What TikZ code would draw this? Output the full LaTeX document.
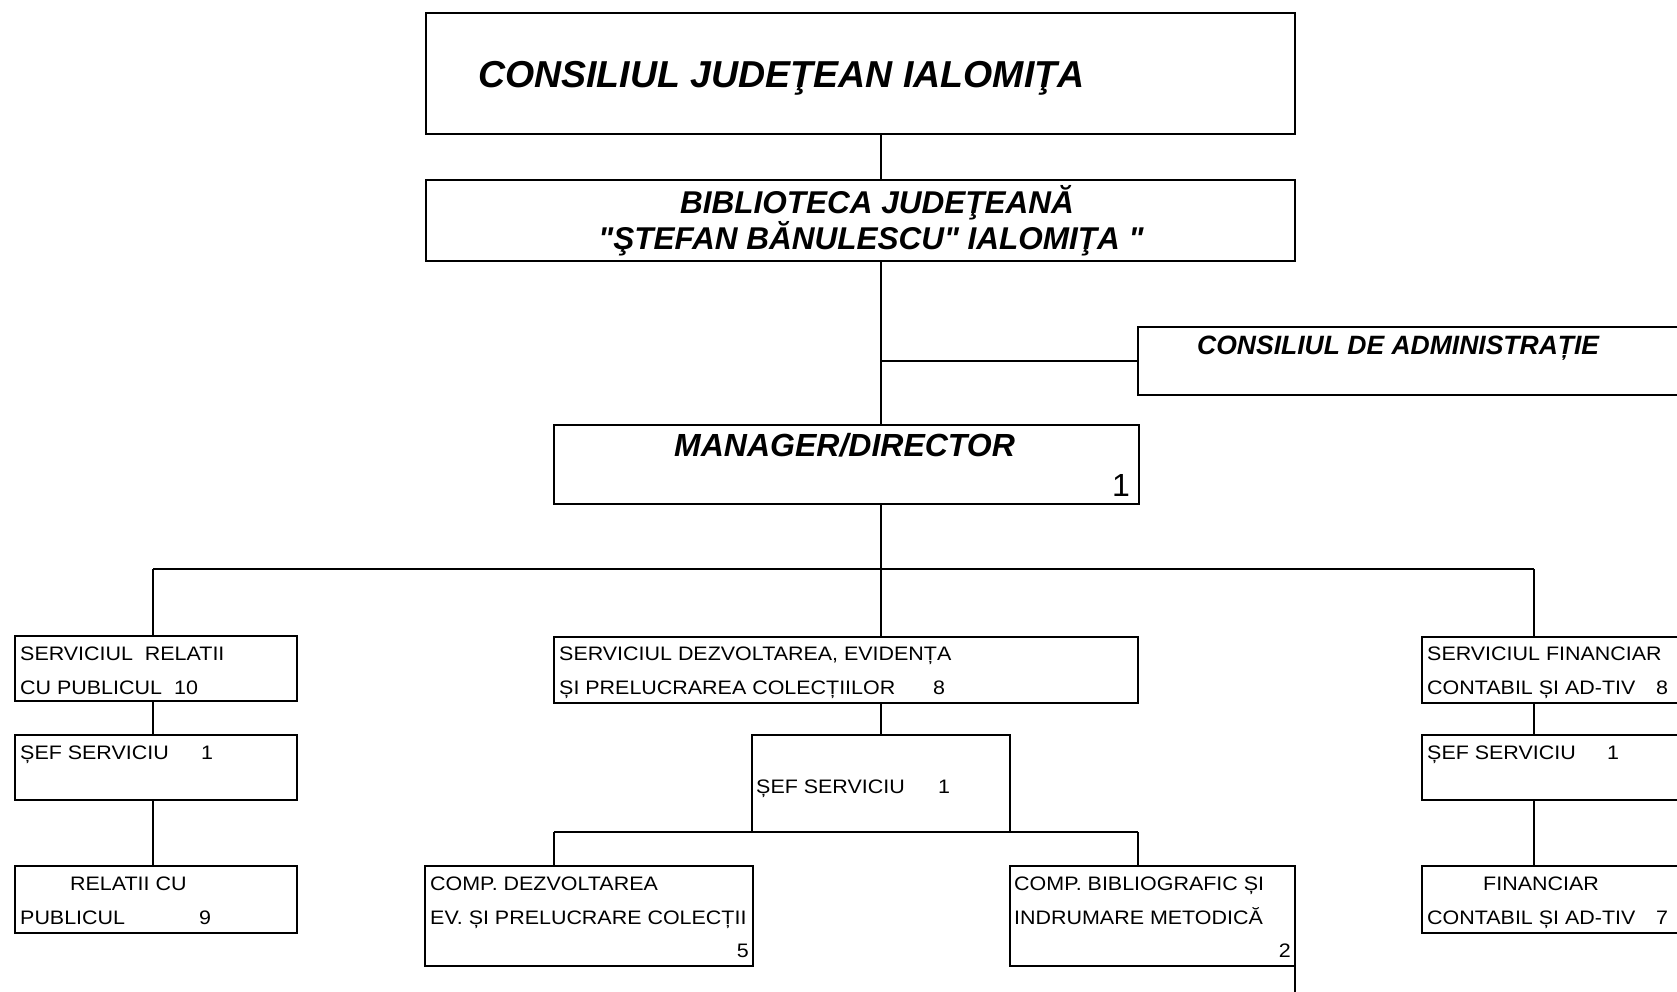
\documentclass[tikz,border=0pt]{standalone}
\usepackage{fontspec}
\setmainfont{Liberation Sans}[Ligatures=TeXOff]
\newfontfamily\widefont{Liberation Sans}[FakeStretch=1.1,Ligatures=TeXOff]
\newcommand{\mkbox}[5]{\node[box, minimum width={#4-#2}, minimum height={#5-#3}] (#1) at ({(#2+#4)/2},{(#3+#5)/2}) {};}
\begin{document}
\begin{tikzpicture}[x=1pt,y=-1pt,
  box/.style={draw, line width=1.6pt, inner sep=0pt, outer sep=0pt},
  ln/.style={line width=1.6pt},
  sm/.style={font=\widefont\fontsize{19.5}{22}\selectfont, inner sep=0pt, anchor=base west},
  smr/.style={sm, anchor=base east},
  bigt/.style={font=\bfseries\itshape\fontsize{37.5}{42}\selectfont, inner sep=0pt, anchor=base west},
  bibt/.style={font=\bfseries\itshape\fontsize{31.5}{36}\selectfont, inner sep=0pt, anchor=base},
  cdat/.style={font=\bfseries\itshape\fontsize{26.5}{30}\selectfont, inner sep=0pt, anchor=base west},
  mgrt/.style={font=\bfseries\itshape\fontsize{32}{36}\selectfont, inner sep=0pt, anchor=base west},
  numt/.style={font=\fontsize{32}{36}\selectfont, inner sep=0pt, anchor=base east},
]
\useasboundingbox (0,0) rectangle (1677,991);
\clip (0,0) rectangle (1677,991);
\fill[white] (0,0) rectangle (1677,991);

% boxes
\mkbox{top}{426}{13}{1295}{134}
\mkbox{bib}{426}{180}{1295}{261}
\mkbox{cda}{1138}{327}{1710}{395}
\mkbox{mgr}{554}{425}{1139}{504}
\mkbox{lA}{15}{636}{297}{701}
\mkbox{lB}{15}{735}{297}{800}
\mkbox{lC}{15}{866}{297}{933}
\mkbox{mA}{554}{637}{1138}{703}
\mkbox{mB}{752}{735}{1010}{832}
\mkbox{mC}{425}{866}{753}{966}
\mkbox{mD}{1010}{866}{1295}{966}
\mkbox{rA}{1422}{637}{1710}{703}
\mkbox{rB}{1422}{735}{1710}{800}
\mkbox{rC}{1422}{866}{1710}{933}

% coordinates
\coordinate (spine) at (881,0);
\coordinate (busL) at (153,569);
\coordinate (busR) at (1534,569);
\coordinate (subL) at (554,832);
\coordinate (subR) at (1138,832);
\coordinate (tail) at (1295,1000);

% connectors
\draw[ln] (top.south -| spine) -- (bib.north -| spine);
\draw[ln] (bib.south -| spine) -- (mgr.north -| spine);
\draw[ln] (spine |- cda.west) -- (cda.west);
\draw[ln] (mgr.south -| spine) -- (spine |- busL);
\draw[ln] (busL) -- (busR);
\draw[ln] (busL) -- (busL |- lA.north);
\draw[ln] (spine |- busL) -- (mA.north -| spine);
\draw[ln] (busR) -- (busR |- rA.north);
\draw[ln] (lA.south -| busL) -- (lB.north -| busL);
\draw[ln] (lB.south -| busL) -- (lC.north -| busL);
\draw[ln] (mA.south -| spine) -- (mB.north -| spine);
\draw[ln] (subL) -- (subR);
\draw[ln] (subL) -- (subL |- mC.north);
\draw[ln] (subR) -- (subR |- mD.north);
\draw[ln] (rA.south -| busR) -- (rB.north -| busR);
\draw[ln] (rB.south -| busR) -- (rC.north -| busR);
\draw[ln] (mD.south east) -- (tail);

% texts
\node[bigt] (ttop) at (478,87) {CONSILIUL JUDEŢEAN IALOMIŢA};
\node[bibt] (tbib1) at (877,213) {BIBLIOTECA JUDEŢEANĂ};
\node[bibt] (tbib2) at (871,249) {"ŞTEFAN BĂNULESCU" IALOMIŢA "};
\node[cdat] (tcda) at (1197,354) {CONSILIUL DE ADMINISTRAȚIE};
\node[mgrt] (tmgr) at (674,456) {MANAGER/DIRECTOR};
\node[numt] (tmgrn) at (1130,496) {1};

\node[sm] (tlA1) at (20,660) {SERVICIUL\ \ RELATII};
\node[sm] (tlA2) at (20,694) {CU PUBLICUL};
\node[sm] (tlA3) at (174,694) {10};
\node[sm] (tlB1) at (20,759) {ȘEF SERVICIU};
\node[sm] (tlB2) at (201,759) {1};
\node[sm] (tlC1) at (70,890) {RELATII CU};
\node[sm] (tlC2) at (20,924) {PUBLICUL};
\node[sm] (tlC3) at (199,924) {9};

\node[sm] (tmA1) at (559,660) {SERVICIUL DEZVOLTAREA, EVIDENȚA};
\node[sm] (tmA2) at (559,694) {ȘI PRELUCRAREA COLECȚIILOR};
\node[sm] (tmA3) at (933,694) {8};
\node[sm] (tmB1) at (756,793) {ȘEF SERVICIU};
\node[sm] (tmB2) at (938,793) {1};
\node[sm] (tmC1) at (430,890) {COMP. DEZVOLTAREA};
\node[sm] (tmC2) at (430,924) {EV. ȘI PRELUCRARE COLECȚII};
\node[smr] (tmC3) at (749,957) {5};
\node[sm] (tmD1) at (1014,890) {COMP. BIBLIOGRAFIC ȘI};
\node[sm] (tmD2) at (1014,924) {INDRUMARE METODICĂ};
\node[smr] (tmD3) at (1291,957) {2};

\node[sm] (trA1) at (1427,660) {SERVICIUL FINANCIAR};
\node[sm] (trA2) at (1427,694) {CONTABIL ȘI AD-TIV};
\node[sm] (trA3) at (1656,694) {8};
\node[sm] (trB1) at (1427,759) {ȘEF SERVICIU};
\node[sm] (trB2) at (1607,759) {1};
\node[sm] (trC1) at (1483,890) {FINANCIAR};
\node[sm] (trC2) at (1427,924) {CONTABIL ȘI AD-TIV};
\node[sm] (trC3) at (1656,924) {7};
\end{tikzpicture}
\end{document}
